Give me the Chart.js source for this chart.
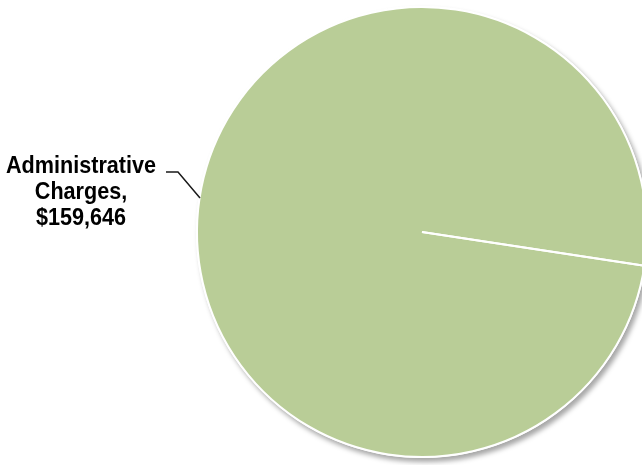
<!DOCTYPE html>
<html>
<head>
<meta charset="utf-8">
<script src="https://cdn.jsdelivr.net/npm/chart.js@4.4.0/dist/chart.umd.min.js"></script>
<style>
  html, body { margin: 0; padding: 0; background: #fff; overflow: hidden; }
  #wrap { width: 660px; height: 465px; }
</style>
</head>
<body>
<div id="wrap"><canvas id="myChart" width="660" height="465"></canvas></div>
<script>
// chart data
const categories = ["Administrative Charges"];
const amounts = [159646];
const labelLines = ["Administrative", "Charges,", "$159,646"];

// soft drop shadow under the pie (bottom-right), drawn before the slice
const pieShadow = {
  id: "pieShadow",
  beforeDatasetsDraw(chart) {
    const ctx = chart.ctx;
    const arc = chart.getDatasetMeta(0).data[0];
    ctx.save();
    ctx.shadowColor = "rgba(0,0,0,0.35)";
    ctx.shadowBlur = 5;
    ctx.shadowOffsetX = 3;
    ctx.shadowOffsetY = 4;
    ctx.fillStyle = "#ffffff";
    ctx.beginPath();
    ctx.arc(arc.x, arc.y, arc.outerRadius + 1, 0, Math.PI * 2);
    ctx.fill();
    ctx.restore();
  }
};

// white radial line at the start of the slice + outside label with leader
const sliceLabel = {
  id: "sliceLabel",
  afterDraw(chart) {
    const ctx = chart.ctx;
    const arc = chart.getDatasetMeta(0).data[0];
    const r = arc.outerRadius;
    const a = arc.startAngle;
    ctx.save();
    ctx.strokeStyle = "#ffffff";
    ctx.lineWidth = 2;
    ctx.beginPath();
    ctx.moveTo(arc.x, arc.y);
    ctx.lineTo(arc.x + Math.cos(a) * r, arc.y + Math.sin(a) * r);
    ctx.stroke();

    // leader line to the left edge
    ctx.strokeStyle = "#1a1a1a";
    ctx.lineWidth = 1.5;
    ctx.beginPath();
    ctx.moveTo(166, 172);
    ctx.lineTo(178, 172);
    ctx.lineTo(200, 198);
    ctx.stroke();

    // label text, slightly condensed like the original
    ctx.fillStyle = "#000000";
    ctx.font = "bold 24px 'Liberation Sans', Arial, sans-serif";
    ctx.textAlign = "center";
    ctx.textBaseline = "alphabetic";
    ctx.translate(81, 0);
    ctx.scale(0.9, 1);
    labelLines.forEach((line, i) => {
      ctx.fillText(line, 0, 173 + i * 26);
    });
    ctx.restore();
  }
};

new Chart("myChart", {
  type: "pie",
  data: {
    labels: categories,
    datasets: [{
      data: amounts,
      backgroundColor: "#B9CD97",
      borderColor: "#ffffff",
      borderWidth: 2
    }]
  },
  options: {
    responsive: false,
    animation: false,
    rotation: 98.6,
    layout: { padding: { left: 196, top: 6, right: 12, bottom: 7 } },
    plugins: {
      legend: { display: false },
      tooltip: { enabled: false }
    }
  },
  plugins: [pieShadow, sliceLabel]
});
</script>
</body>
</html>
